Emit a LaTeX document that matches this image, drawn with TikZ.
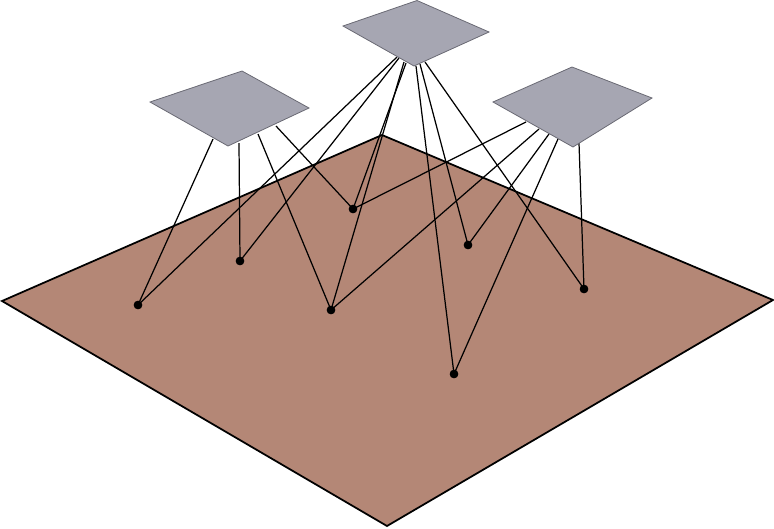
\documentclass[tikz,border=0pt]{standalone}
\usepackage{xcolor}
\usepackage{tikz}
\usetikzlibrary{arrows.meta, positioning}

\definecolor{groundcol}{RGB}{180,135,118}
\definecolor{planecol}{RGB}{166,166,178}
\definecolor{planeedge}{RGB}{105,105,115}

\tikzset{
  dot/.style={circle, fill=black, inner sep=0pt, minimum size=4.8pt},
  wire/.style={black, line width=0.7pt},
  plane/.style={fill=planecol, draw=planeedge, line width=0.45pt, line join=miter},
  ground/.style={fill=groundcol, draw=black, line width=1pt, line join=miter}
}

\begin{document}
\begin{tikzpicture}[x=0.02cm, y=-0.02cm]
\useasboundingbox (0,0) rectangle (774,528);

% ground
\draw[ground] (2,301) -- (382,135) -- (773,300) -- (387,526) -- cycle;

% points on the ground
\node[dot] (A) at (138,305) {};
\node[dot] (B) at (240,261) {};
\node[dot] (C) at (353,209) {};
\node[dot] (D) at (331,310) {};
\node[dot] (E) at (468,245) {};
\node[dot] (F) at (584,289) {};
\node[dot] (G) at (454,374) {};

% where the wires leave the planes
\coordinate (l1) at (213,139);  \coordinate (l2) at (239,143);
\coordinate (l3) at (258,134);  \coordinate (l4) at (276,126);
\coordinate (m1) at (397,57);   \coordinate (m2) at (399,58);
\coordinate (m3) at (404,62);   \coordinate (m4) at (406,63);
\coordinate (m5) at (416,66);   \coordinate (m6) at (420,64);
\coordinate (m7) at (425,62);
\coordinate (r1) at (526,122);  \coordinate (r2) at (539,129);
\coordinate (r3) at (549,134);  \coordinate (r4) at (558,139);
\coordinate (r5) at (579,143);

\foreach \s/\t in {l1/A, l2/B, l3/D, l4/C,
                   m1/A, m2/B, m3/D, m4/C, m5/G, m6/E, m7/F,
                   r1/C, r2/D, r3/E, r4/G, r5/F}{
  \draw[wire] (\s) -- (\t.center);
}
\foreach \n in {A,B,C,D,E,F,G}{
  \node[dot] at (\n) {};
}

% the three planes
\draw[plane] (150,102) -- (242,71) -- (309,108) -- (228,146) -- cycle;
\draw[plane] (343,26) -- (417,0.5) -- (489,32) -- (414,66) -- cycle;
\draw[plane] (493,102) -- (572,67) -- (652,98) -- (573,147) -- cycle;
\end{tikzpicture}
\end{document}
